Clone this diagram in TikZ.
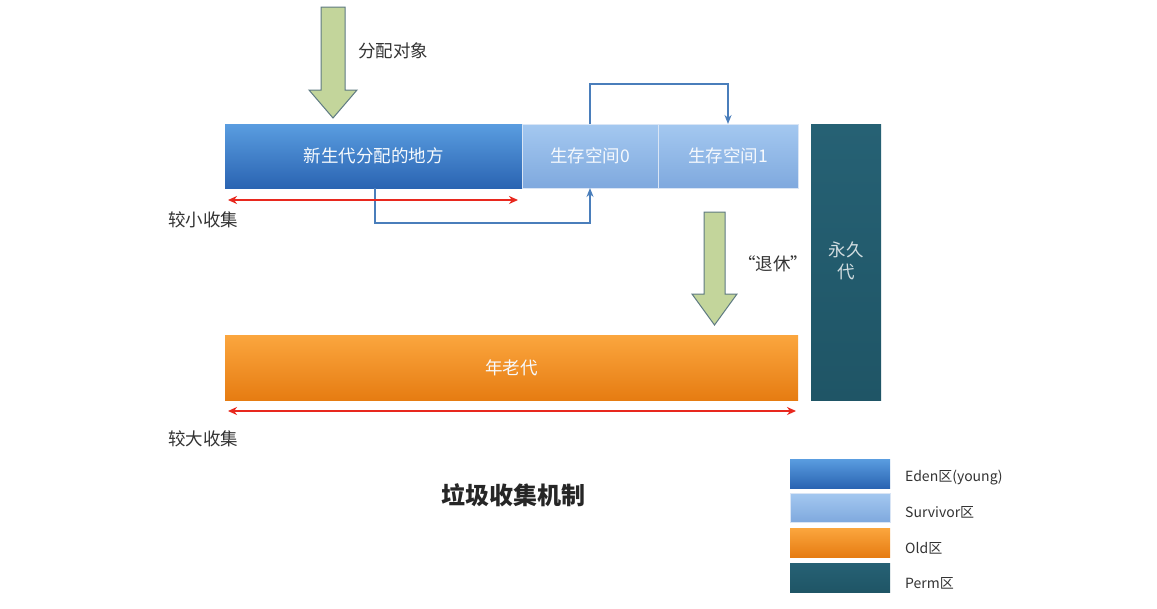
\documentclass[tikz,border=0pt]{standalone}
\usepackage{fontspec}
\setmainfont{Noto Sans CJK SC}
\usetikzlibrary{arrows.meta,calc}
\definecolor{edenT}{HTML}{5A9DE0}
\definecolor{edenB}{HTML}{2A64B2}
\definecolor{survT}{HTML}{A4C8F0}
\definecolor{survB}{HTML}{7FA9DE}
\definecolor{oldT}{HTML}{FBA63E}
\definecolor{oldB}{HTML}{E67C12}
\definecolor{permC}{HTML}{1F5566}
\definecolor{permT}{HTML}{266174}
\definecolor{greenF}{HTML}{C3D59B}
\definecolor{greenD}{HTML}{5E7A82}
\definecolor{linkC}{HTML}{4A7EBB}
\definecolor{redC}{HTML}{E8281E}
\definecolor{txtC}{HTML}{333333}
\tikzset{
  x=1pt,y=-1pt,
  bar/.style={inner sep=0pt,outer sep=0pt,draw=none,font=\fontsize{17.5}{20}\selectfont,text=white!95!edenT},
  edenbox/.style={bar,top color=edenT,bottom color=edenB},
  survbox/.style={bar,top color=survT,bottom color=survB,draw=white!70!survB,line width=0.8pt,text=white!90!survT},
  oldbox/.style={bar,top color=oldT,bottom color=oldB},
  permbox/.style={bar,top color=permT,bottom color=permC},
  permtext/.style={inner sep=0pt,font=\fontsize{17.5}{22}\selectfont,align=center,text=white!80!permC},
  lbl/.style={font=\fontsize{17.5}{20}\selectfont,text=txtC,inner sep=1pt},
  leglbl/.style={font=\fontsize{14}{16}\selectfont,text=txtC,anchor=west,inner sep=0pt},
  fatarrow/.style={fill=greenF,draw=greenD,line width=1pt,line join=miter},
  link/.style={draw=linkC,line width=1.5pt,-{Stealth[length=9pt,width=7pt]}},
  redarrow/.style={draw=redC,line width=1.6pt,{Stealth[length=9pt,width=8pt]}-{Stealth[length=9pt,width=8pt]}}
}
\begin{document}
\begin{tikzpicture}
\useasboundingbox (0,0) rectangle (1157,608);
\fill[white] (0,0) rectangle (1157,608);

% main bars
\node[edenbox,minimum width=297pt,minimum height=64pt] (eden) at (373.5,156) {新生代分配的地方};
\node[survbox,minimum width=136pt,minimum height=64pt] (s0) at (590,156) {生存空间0};
\node[survbox,minimum width=140pt,minimum height=64pt] (s1) at (728,156) {生存空间1};
\node[permbox,minimum width=70pt,minimum height=276pt] (perm) at (846,262) {};
\node[permtext] (permtxt) at (846,261) {永久\\代};
\node[oldbox,minimum width=573pt,minimum height=65pt] (old) at (511.5,367.5) {年老代};

% green arrows
\draw[fatarrow] (321,7) -- (345,7) -- (345,90) -- (357,90) -- (333,118) -- (309,90) -- (321,90) -- cycle;
\draw[fatarrow] (704,212) -- (725,212) -- (725,294) -- (737,294) -- (714.5,325) -- (692,294) -- (704,294) -- cycle;

\node[lbl] (alloc) at (393,51) {分配对象};
\node[lbl] (retire) at (773,264) {“退休”};

% blue links
\coordinate (topbend) at ($(s0.north)+(0,-40)$);
\draw[link] (s0.north) -- (topbend) -| (s1.north);
\coordinate (botbend) at ($(eden.south)+(1.5,35)$);
\draw[link] ($(eden.south)+(1.5,0)$) -- (botbend) -| (s0.south);

% red double arrows
\coordinate (m1a) at (228,200);
\coordinate (m1b) at (518,200);
\draw[redarrow] (m1a) -- (m1b);
\node[lbl] (minor) at (203,220) {较小收集};
\coordinate (m2a) at (228,411);
\coordinate (m2b) at (796,411);
\draw[redarrow] (m2a) -- (m2b);
\node[lbl] (major) at (203,439) {较大收集};

% title
\node[font=\fontsize{24}{27}\selectfont\bfseries,text=black!85] (title) at (513,495) {垃圾收集机制};

% legend
\node[edenbox,minimum width=100pt,minimum height=29pt] (le) at (840,473.5) {};
\node[survbox,minimum width=100pt,minimum height=29pt] (ls) at (840,507.5) {};
\node[oldbox,minimum width=100pt,minimum height=29pt] (lo) at (840,542.5) {};
\node[permbox,minimum width=100pt,minimum height=29pt] (lp) at (840,577.5) {};
\node[leglbl] (lel) at (905,478) {Eden区(young)};
\node[leglbl] (lsl) at (905,512) {Survivor区};
\node[leglbl] (lol) at (905,548) {Old区};
\node[leglbl] (lpl) at (905,583) {Perm区};
\end{tikzpicture}
\end{document}
